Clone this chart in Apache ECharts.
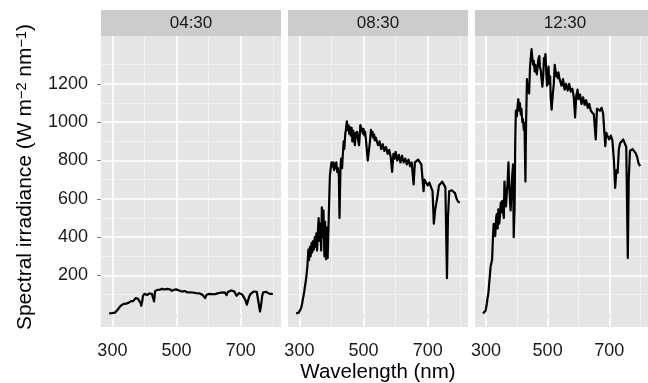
<!DOCTYPE html>
<html>
<head>
<meta charset="utf-8">
<script src="https://cdn.jsdelivr.net/npm/echarts@6/dist/echarts.min.js"></script>
<style>
  html, body { margin: 0; padding: 0; background: #ffffff; }
  #chart { width: 648px; height: 383px; }
</style>
</head>
<body>
<div id="chart"></div>
<script>
// Wavelengths (nm) shared by all three spectra
const wavelength = [
  290, 292, 295, 298, 300, 303, 305, 308, 310, 313, 315, 318, 320, 323, 325, 328, 330,
  333, 335, 338, 340, 343, 345, 348, 350, 353, 355, 358, 360, 363, 365, 368, 370, 373, 375, 378, 380, 383, 385, 388, 390, 393, 395, 397,
  400, 403, 405, 408, 410, 413, 415, 418, 420, 423, 425, 428, 430, 433, 435, 438, 440, 443, 445, 448,
  450, 453, 455, 458, 460, 463, 465, 468, 470, 473, 475, 478, 480, 483, 486, 488, 490, 493, 495, 498, 500, 503, 505, 508, 510, 513, 517, 520, 523, 525, 528, 530, 533, 535, 538,
  540, 545, 550, 555, 560, 565, 570, 575, 580, 585, 589, 593, 597, 600, 605, 610, 615, 620, 625, 630, 635, 640, 645, 650, 656, 660,
  665, 670, 675, 680, 687, 690, 695, 700, 705, 710, 715, 719, 723, 727, 731, 735, 740, 745, 750, 755, 760, 763, 767, 770, 775, 780, 785, 790, 795, 800
];

// Spectral irradiance (W m-2 nm-1) at 04:30
const irr0430 = [
  2, 2, 2, 3, 3, 4, 5, 6, 9, 13, 18, 25, 30, 36, 40, 44, 46,
  48, 52, 50, 55, 53, 58, 62, 57, 64, 60, 66, 62, 72, 66, 76, 70, 82, 74, 86, 78, 88, 70, 55, 42, 65, 92, 100,
  104, 100, 106, 98, 104, 100, 106, 102, 108, 104, 112, 100, 64, 118, 122, 118, 125, 122, 128, 126,
  132, 128, 130, 126, 131, 127, 130, 125, 130, 126, 132, 128, 131, 126, 120, 128, 130, 126, 129, 124, 127, 122, 125, 121, 123, 118, 116, 120, 117, 119, 115, 116, 112, 114, 110,
  112, 109, 111, 106, 108, 104, 107, 102, 100, 96, 82, 98, 102, 104, 101, 103, 105, 102, 104, 108, 104, 110, 106, 112, 98, 114,
  118, 122, 120, 116, 94, 104, 108, 104, 100, 94, 70, 47, 70, 92, 104, 112, 116, 118, 115, 110, 12, 40, 95, 112, 116, 114, 110, 104, 100, 104
];

// Spectral irradiance (W m-2 nm-1) at 08:30
const irr0830 = [
  2, 3, 4, 6, 9, 16, 28, 48, 68, 95, 115, 150, 172, 215, 250, 335, 280,
  350, 300, 370, 320, 380, 335, 400, 350, 420, 330, 440, 500, 380, 470, 330, 555, 400, 540, 300, 480, 285, 450, 290, 300, 285, 720, 750,
  790, 770, 790, 750, 785, 760, 790, 740, 760, 720, 500, 760, 810, 760, 820, 900, 860, 940, 960, 1005,
  960, 985, 940, 975, 930, 970, 900, 955, 960, 880, 945, 920, 950, 905, 880, 930, 985, 995, 960, 940, 965, 930, 950, 900, 860, 800, 790, 900, 960, 930, 950, 920, 935, 905, 920,
  915, 880, 900, 860, 885, 850, 870, 835, 855, 815, 740, 835, 810, 845, 800, 830, 790, 825, 790, 810, 780, 805, 770, 790, 675, 790,
  800, 805, 795, 780, 640, 700, 690, 670, 685, 680, 640, 470, 540, 530, 620, 670, 680, 690, 680, 660, 186, 500, 640, 650, 645, 640, 630, 600, 585, 580
];

// Spectral irradiance (W m-2 nm-1) at 12:30
const irr1230 = [
  2, 3, 6, 14, 25, 55, 80, 110, 150, 205, 245, 268, 285, 410, 470, 480, 405,
  500, 520, 445, 545, 470, 500, 580, 530, 590, 540, 500, 690, 600, 560, 640, 680, 790, 690, 590, 540, 640, 720, 780, 400, 560, 900, 1060,
  1030, 1090, 1120, 1060, 1100, 1040, 1070, 1000, 1015, 960, 995, 690, 980, 1225, 1160, 1195, 1150, 1290, 1330, 1381,
  1340, 1300, 1320, 1265, 1300, 1310, 1250, 1295, 1330, 1345, 1290, 1270, 1230, 1185, 1250, 1335, 1300, 1355, 1280, 1190, 1250, 1290, 1200, 1240, 1130, 1065, 1150, 1200, 1300, 1290, 1240, 1255, 1230, 1260, 1230,
  1230, 1190, 1225, 1170, 1200, 1165, 1200, 1160, 1175, 1130, 1025, 1140, 1170, 1120, 1145, 1095, 1130, 1090, 1115, 1075, 1095, 1060, 1070, 1040, 910, 1070,
  1080, 1060, 1075, 1045, 875, 945, 925, 910, 930, 905, 800, 657, 750, 735, 860, 890, 900, 910, 900, 870, 291, 700, 850, 860, 860, 855, 840, 820, 785, 771
];

const panelLabels = ['04:30', '08:30', '12:30'];
const panelSeries = [irr0430, irr0830, irr1230];

// Axis breaks
const xTickValues = [300, 500, 700];
const xMinorBreaks = [400, 600, 800];
const yTickValues = [200, 400, 600, 800, 1000, 1200];
const yMinorBreaks = [100, 300, 500, 700, 900, 1100, 1300];

const FONT = '"Liberation Sans", Arial, Helvetica, sans-serif';
const panelLefts = [101, 288, 475];
const panelTop = 36, panelW = 180, panelH = 291;
const stripTop = 10, stripH = 26;
const xLimits = [264.5, 825.5];
const yLimits = [-69, 1450];

const grids = [], xAxes = [], yAxes = [], series = [], graphics = [];

function gridLines() {
  const minor = { color: '#f2f2f2', width: 0.9, type: 'solid' };
  const major = { color: '#ffffff', width: 1.6, type: 'solid' };
  const items = [];
  xMinorBreaks.forEach(v => items.push({ xAxis: v, lineStyle: minor }));
  yMinorBreaks.forEach(v => items.push({ yAxis: v, lineStyle: minor }));
  xTickValues.forEach(v => items.push({ xAxis: v, lineStyle: major }));
  yTickValues.forEach(v => items.push({ yAxis: v, lineStyle: major }));
  return items;
}

const plainNumber = v => String(v);

panelLabels.forEach((label, i) => {
  grids.push({
    left: panelLefts[i], top: panelTop, width: panelW, height: panelH,
    show: true, backgroundColor: '#e5e5e5', borderWidth: 0
  });
  xAxes.push({
    type: 'value', gridIndex: i, min: xLimits[0], max: xLimits[1],
    axisLine: { show: false },
    splitLine: { show: false },
    axisTick: { show: true, customValues: xTickValues, length: 4, lineStyle: { color: '#7f7f7f', width: 1 } },
    axisLabel: { customValues: xTickValues, formatter: plainNumber, margin: 15, fontSize: 18, color: '#1a1a1a', fontFamily: FONT }
  });
  yAxes.push({
    type: 'value', gridIndex: i, min: yLimits[0], max: yLimits[1],
    axisLine: { show: false },
    splitLine: { show: false },
    axisTick: { show: i === 0, customValues: yTickValues, length: 4, lineStyle: { color: '#7f7f7f', width: 1 } },
    axisLabel: { show: i === 0, customValues: yTickValues, formatter: plainNumber, margin: 13, fontSize: 18, color: '#1a1a1a', fontFamily: FONT }
  });
  series.push({
    type: 'line', name: label, xAxisIndex: i, yAxisIndex: i,
    data: wavelength.map((w, k) => [w, panelSeries[i][k]]),
    showSymbol: false, symbol: 'none', z: 3,
    lineStyle: { color: '#000000', width: 2.2, join: 'round' },
    emphasis: { disabled: true },
    animation: false,
    markLine: {
      silent: true, z: 1, animation: false,
      symbol: ['none', 'none'],
      label: { show: false },
      emphasis: { disabled: true },
      data: gridLines()
    }
  });
  graphics.push({
    type: 'rect', silent: true,
    shape: { x: panelLefts[i], y: stripTop, width: panelW, height: stripH },
    style: { fill: '#cccccc' }
  });
  graphics.push({
    type: 'text', silent: true,
    x: panelLefts[i] + panelW / 2, y: stripTop + stripH / 2 + 0.5,
    style: { text: label, fontSize: 17, fontFamily: FONT, fill: '#1a1a1a', align: 'center', verticalAlign: 'middle' }
  });
});

// Axis titles
graphics.push({
  type: 'text', silent: true, x: 378, y: 372,
  style: { text: 'Wavelength (nm)', fontSize: 20.5, fontFamily: FONT, fill: '#000000', align: 'center', verticalAlign: 'middle' }
});
graphics.push({
  type: 'text', silent: true, x: 25, y: 177, rotation: Math.PI / 2,
  style: {
    text: '{n|Spectral irradiance (W m}{s|\u22122}{n| nm}{s|\u22121}{n|)}',
    align: 'center', verticalAlign: 'middle',
    rich: {
      n: { fontSize: 21, fontFamily: FONT, fill: '#000000', lineHeight: 22, verticalAlign: 'bottom' },
      s: { fontSize: 14.5, fontFamily: FONT, fill: '#000000', lineHeight: 14, padding: [0, 0, 14, 0], verticalAlign: 'top' }
    }
  }
});

const chart = echarts.init(document.getElementById('chart'), null, { renderer: 'canvas' });
chart.setOption({
  animation: false,
  backgroundColor: '#ffffff',
  grid: grids,
  xAxis: xAxes,
  yAxis: yAxes,
  series: series,
  graphic: graphics
});
</script>
</body>
</html>
